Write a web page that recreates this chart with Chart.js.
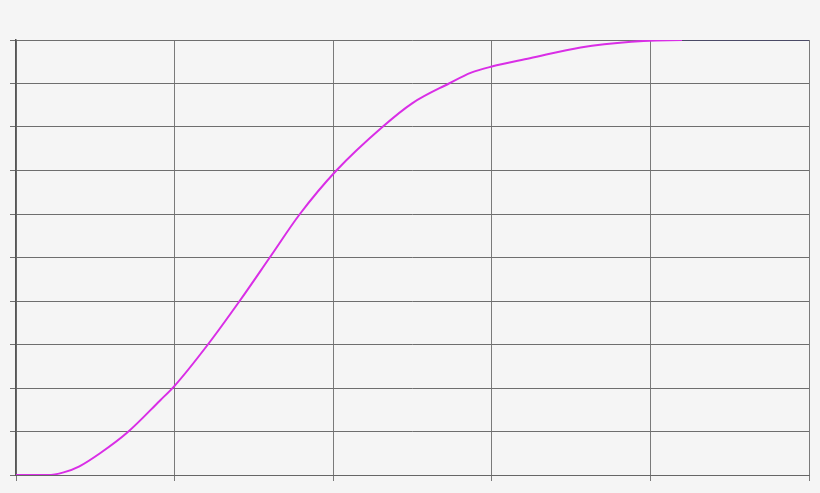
<!DOCTYPE html>
<html lang="en">
  <head>
    <meta charset="UTF-8" />
    <title>Curve</title>
    <script src="https://cdn.jsdelivr.net/npm/chart.js@4.4.1/dist/chart.umd.min.js"></script>
    <style>
      html, body { margin: 0; padding: 0; background: #f5f5f5; }
      .wrap { width: 820px; height: 493px; position: relative; }
    </style>
  </head>
  <body>
    <div class="wrap">
      <canvas id="curve-chart"></canvas>
    </div>

    <script>
      // values (x from 0 to 5, y from 0 to 10)
      const xValues = [0, 0.2, 0.3, 0.4, 0.53, 0.7, 0.91, 1.0, 1.21, 1.41, 1.6, 1.79, 2.02, 2.31, 2.5, 2.73, 2.87, 3.0, 3.24, 3.56, 3.88, 4.2, 5];
      const yValues = [0, 0, 0.06, 0.2, 0.5, 0.97, 1.72, 2.05, 3.0, 4.0, 5.0, 6.0, 7.0, 8.0, 8.55, 9.0, 9.25, 9.39, 9.58, 9.83, 9.96, 10, 10];
      const xTicks = [0, 1, 2, 3, 4, 5];
      const yTicks = [0, 1, 2, 3, 4, 5, 6, 7, 8, 9, 10];

      const points = xValues.map((x, i) => ({ x: x, y: yValues[i] }));

      const ctx = document.getElementById("curve-chart").getContext("2d");
      new Chart(ctx, {
        type: "line",
        data: {
          datasets: [
            {
              data: points,
              borderColor: "#d92ee6",
              borderWidth: 2,
              pointRadius: 0,
              fill: false,
              cubicInterpolationMode: "monotone",
              segment: {
                borderColor: (c) => (c.p0.parsed.x >= 4.2 ? "#4a4a66" : undefined),
              },
            },
          ],
        },
        options: {
          responsive: true,
          maintainAspectRatio: false,
          animation: false,
          layout: { padding: { left: 10, top: 40, right: 11, bottom: 12 } },
          plugins: { legend: { display: false }, tooltip: { enabled: false } },
          scales: {
            x: {
              type: "linear",
              min: 0,
              max: 5,
              afterBuildTicks: (axis) => { axis.ticks = xTicks.map((v) => ({ value: v })); },
              ticks: { display: false },
              grid: { color: "#7a7a7a", lineWidth: 1, tickLength: 6 },
              border: { color: "#666666", width: 1 },
            },
            y: {
              min: 0,
              max: 10,
              afterBuildTicks: (axis) => { axis.ticks = yTicks.map((v) => ({ value: v })); },
              ticks: { display: false },
              grid: { color: "#6e6e6e", lineWidth: 1, tickLength: 6 },
              border: { color: "#555555", width: 1.5 },
            },
          },
        },
      });
    </script>
  </body>
</html>
